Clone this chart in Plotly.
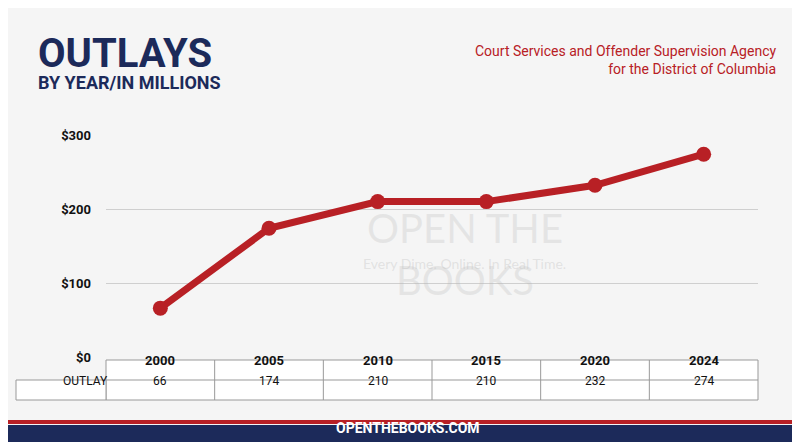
import plotly.graph_objects as go

years = ["2000", "2005", "2010", "2015", "2020", "2024"]
outlays = [66, 174, 210, 210, 232, 274]
yticks = [0, 100, 200, 300]
ytext = ["$0", "$100", "$200", "$300"]

navy = "#1c2a5a"
red = "#b82025"
xs = list(range(len(years)))

fig = go.Figure()
fig.add_trace(go.Scatter(x=xs, y=outlays, mode="lines+markers",
    line=dict(color=red, width=7), marker=dict(size=15, color=red),
    hoverinfo="skip"))

fig.update_layout(
    width=800, height=442, margin=dict(l=98, r=50, t=127, b=93, autoexpand=False),
    paper_bgcolor="#f5f5f5", plot_bgcolor="rgba(0,0,0,0)", showlegend=False,
    font=dict(family="Roboto", color="#111"),
    xaxis=dict(range=[-0.5, 5.5], showticklabels=False, showgrid=False, zeroline=False, fixedrange=True),
    yaxis=dict(range=[0, 300], tickvals=yticks, ticktext=ytext, showgrid=True,
               gridcolor="#cfcfcf", zeroline=False, ticklabelstandoff=14,
               tickfont=dict(size=13, family="Roboto", color="#111", weight="bold")),
)
# watermark
fig.add_annotation(x=0.55, y=0.70, xref="paper", yref="paper", text="OPEN THE<br>BOOKS",
    showarrow=False, font=dict(size=40, color="rgba(180,180,180,0.25)", family="Lato"))
fig.add_annotation(x=0.55, y=0.42, xref="paper", yref="paper", text="Every Dime. Online. In Real Time.",
    showarrow=False, font=dict(size=14, color="rgba(180,180,180,0.3)", family="Lato"))

# titles
fig.add_annotation(x=28, y=442-45, xref="paper", yref="paper", text="<b>OUTLAYS</b>", showarrow=False,
    xanchor="left", yanchor="middle", font=dict(size=40, color=navy, family="Roboto", weight=900))
fig.add_annotation(x=28, y=442-75, xref="paper", yref="paper", text="<b>BY YEAR/IN MILLIONS</b>", showarrow=False,
    xanchor="left", yanchor="middle", font=dict(size=18, color=navy, family="Roboto"))
fig.add_annotation(x=770, y=442-52, xref="paper", yref="paper",
    text="Court Services and Offender Supervision Agency<br>for the District of Columbia",
    showarrow=False, xanchor="right", yanchor="middle", align="right",
    font=dict(size=14, color=red, family="Roboto"))

for a in fig.layout.annotations[2:]:
    a.x = (a.x - 98) / (800 - 98 - 50)
    a.y = (a.y - 93) / (442 - 127 - 93)

def py(p): return (442 - 93 - p) / (442 - 127 - 93)
shapes = []
shapes.append(dict(type="rect", xref="paper", yref="paper", x0=0, x1=1, y0=py(392), y1=py(352),
    fillcolor="white", line=dict(color="#999", width=1), layer="below"))
shapes.append(dict(type="rect", xref="paper", yref="paper", x0=(8-98)/652, x1=0, y0=py(392), y1=py(372),
    fillcolor="white", line=dict(color="#999", width=1), layer="below"))
shapes.append(dict(type="line", xref="paper", yref="paper", x0=0, x1=1, y0=py(372), y1=py(372),
    line=dict(color="#999", width=1)))
for i in range(1, len(years)):
    shapes.append(dict(type="line", xref="x", yref="paper", x0=i-0.5, x1=i-0.5, y0=py(392), y1=py(352),
        line=dict(color="#999", width=1)))
shapes.append(dict(type="line", xref="paper", yref="paper", x0=-98/652, x1=750/652, y0=py(414), y1=py(414),
    line=dict(color=red, width=4)))
shapes.append(dict(type="rect", xref="paper", yref="paper", x0=-98/652, x1=750/652, y0=py(442), y1=py(417),
    fillcolor=navy, line=dict(width=0)))
fig.update_layout(shapes=shapes)

for i, (yr, v) in enumerate(zip(years, outlays)):
    fig.add_annotation(x=i, y=py(362), xref="x", yref="paper", text=f"<b>{yr}</b>", showarrow=False,
        font=dict(size=13, color="#111"))
    fig.add_annotation(x=i, y=py(382), xref="x", yref="paper", text=str(v), showarrow=False,
        font=dict(size=12, color="#111"))
fig.add_annotation(x=(53-98)/652, y=py(382), xref="paper", yref="paper", text="OUTLAY", showarrow=False,
    font=dict(size=12, color="#111"))
fig.add_annotation(x=(400-98)/652, y=py(430), xref="paper", yref="paper", text="<b>OPENTHEBOOKS.COM</b>",
    showarrow=False, font=dict(size=14, color="white"))

fig.write_html("out.html")
